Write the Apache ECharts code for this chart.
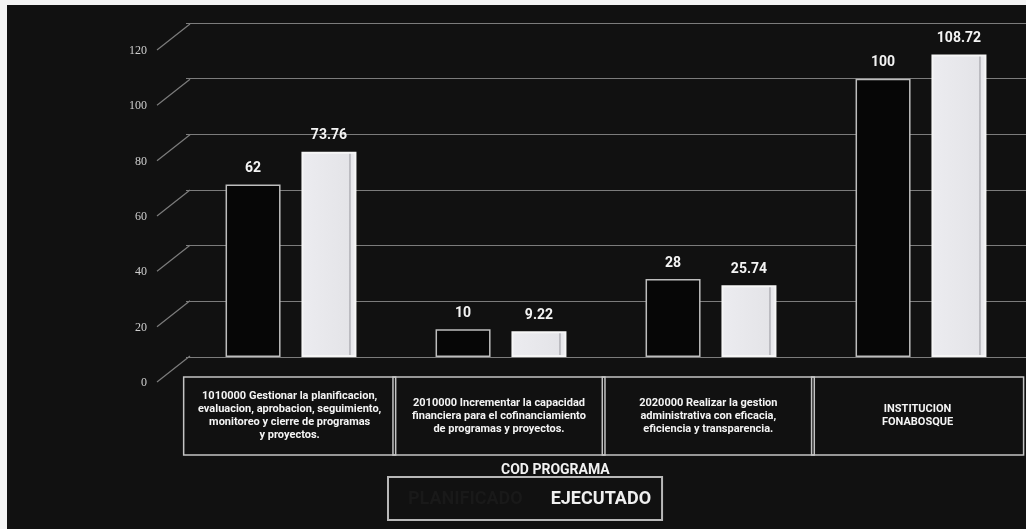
<!DOCTYPE html>
<html>
<head>
<meta charset="utf-8">
<script src="https://cdn.jsdelivr.net/npm/echarts@6/dist/echarts.min.js"></script>
<style>
  html, body { margin: 0; padding: 0; background: #fff; }
  #chart { width: 1026px; height: 529px; }
  .edge { position: absolute; background: #f4f4f4; }
</style>
</head>
<body>
<div id="chart"></div>
<div class="edge" style="left:0;top:0;width:1026px;height:5px;"></div>
<div class="edge" style="left:0;top:0;width:7px;height:529px;"></div>
<script>
// datos
const categories = [
  '1010000 Gestionar la planificacion,\nevaluacion, aprobacion, seguimiento,\nmonitoreo y cierre de programas\ny proyectos.',
  '2010000 Incrementar la capacidad\nfinanciera para el cofinanciamiento\nde programas y proyectos.',
  '2020000 Realizar la gestion\nadministrativa con eficacia,\neficiencia y transparencia.',
  'INSTITUCION\nFONABOSQUE'
]
const planificado = [62, 10, 28, 100]
const ejecutado = [73.76, 9.22, 25.74, 108.72]
const yTicks = [0, 20, 40, 60, 80, 100, 120]

const chart = echarts.init(document.getElementById('chart'))

// caja de 4 lineas, centrada en vertical
const boxText = (v) => {
  const lines = v.split('\n')
  let s = lines.map(l => '{t|' + l + '}').join('\n')
  const pad = 4 - lines.length
  if (pad === 1) s = '{h| }\n' + s + '\n{h| }'
  if (pad === 2) s = '{f| }\n' + s + '\n{f| }'
  return s
}

const font = 'Roboto, "Liberation Sans", sans-serif'

chart.setOption({
  backgroundColor: '#111111',
  animation: false,
  title: {
    text: 'COD PROGRAMA',
    left: 496, top: 458,
    textStyle: { color: '#f2f2f2', fontSize: 14, fontWeight: 'bold', fontFamily: font }
  },
  legend: {
    left: 388, top: 477,
    padding: [13, 11, 12, 14],
    itemGap: 22,
    itemWidth: 0, itemHeight: 0,
    borderColor: '#b8b8b8', borderWidth: 2,
    textStyle: { fontSize: 18, fontWeight: 'bold', fontFamily: font },
    data: [
      { name: 'PLANIFICADO', textStyle: { color: '#191919' } },
      { name: 'EJECUTADO', textStyle: { color: '#f0f0f0' } }
    ]
  },
  grid: [
    { left: 186, top: 23, width: 840, height: 334 },
    { left: 155, top: 51, width: 35, height: 332 },
    { left: 185, top: 300, width: 848, height: 57 }
  ],
  xAxis: [
    { gridIndex: 0, type: 'category', data: categories, axisLine: { show: false }, axisTick: { show: false }, axisLabel: { show: false } },
    { gridIndex: 1, type: 'value', min: 0, max: 1, show: false },
    {
      gridIndex: 2, type: 'category', data: categories,
      axisLine: { show: false }, axisTick: { show: false },
      axisLabel: {
        interval: 0, margin: 20,
        width: 200, overflow: 'none',
        padding: [13, 6, 13, 6],
        borderColor: '#c4c4c4', borderWidth: 1.5,
        formatter: boxText,
        rich: {
          t: { color: '#f4f4f4', fontSize: 11, fontWeight: 'bold', lineHeight: 13, fontFamily: font },
          h: { fontSize: 1, lineHeight: 6.5 },
          f: { fontSize: 1, lineHeight: 13 }
        }
      }
    }
  ],
  yAxis: [
    {
      gridIndex: 0, type: 'value', min: 0, max: 120, interval: 20,
      axisLine: { show: false }, axisTick: { show: false }, axisLabel: { show: false },
      splitLine: { lineStyle: { color: '#7c7c7c', width: 1.2 } }
    },
    {
      gridIndex: 1, type: 'value', min: 0, max: 120, interval: 20,
      axisLine: { show: false }, axisTick: { show: false }, splitLine: { show: false },
      axisLabel: { margin: 8, color: '#cfcfcf', fontSize: 12, fontFamily: '"Liberation Serif", serif' }
    },
    { gridIndex: 2, type: 'value', show: false }
  ],
  series: [
    {
      name: 'PLANIFICADO', type: 'bar', xAxisIndex: 0, yAxisIndex: 0,
      data: planificado, barWidth: 55, barGap: '38%',
      itemStyle: { color: '#060606', borderColor: '#bdbdbd', borderWidth: 1.5 },
      label: { show: true, position: 'top', distance: 9, color: '#f4f4f4', fontSize: 14, fontWeight: 'bold', fontFamily: font }
    },
    {
      name: 'EJECUTADO', type: 'bar', xAxisIndex: 0, yAxisIndex: 0,
      data: ejecutado, barWidth: 55,
      itemStyle: {
        color: new echarts.graphic.LinearGradient(0, 0, 1, 0, [
          { offset: 0, color: '#ececf0' },
          { offset: 0.86, color: '#e4e4e8' },
          { offset: 0.88, color: '#a8a8ae' },
          { offset: 0.91, color: '#e8e8ec' },
          { offset: 1, color: '#ececf0' }
        ]),
        borderColor: '#f6f6f6', borderWidth: 2
      },
      label: { show: true, position: 'top', distance: 9, color: '#f4f4f4', fontSize: 14, fontWeight: 'bold', fontFamily: font }
    },
    {
      // lineas diagonales de la pared lateral
      type: 'custom', xAxisIndex: 1, yAxisIndex: 1,
      data: yTicks.map(v => [0, v]),
      silent: true,
      renderItem: (params, api) => {
        const p0 = api.coord([0, api.value(1)])
        const p1 = api.coord([1, api.value(1)])
        return {
          type: 'line',
          shape: { x1: p0[0] + 2, y1: p0[1] - 1, x2: p1[0], y2: p1[1] - 27 },
          style: { stroke: '#7c7c7c', lineWidth: 1.2 }
        }
      }
    }
  ]
})
</script>
</body>
</html>
